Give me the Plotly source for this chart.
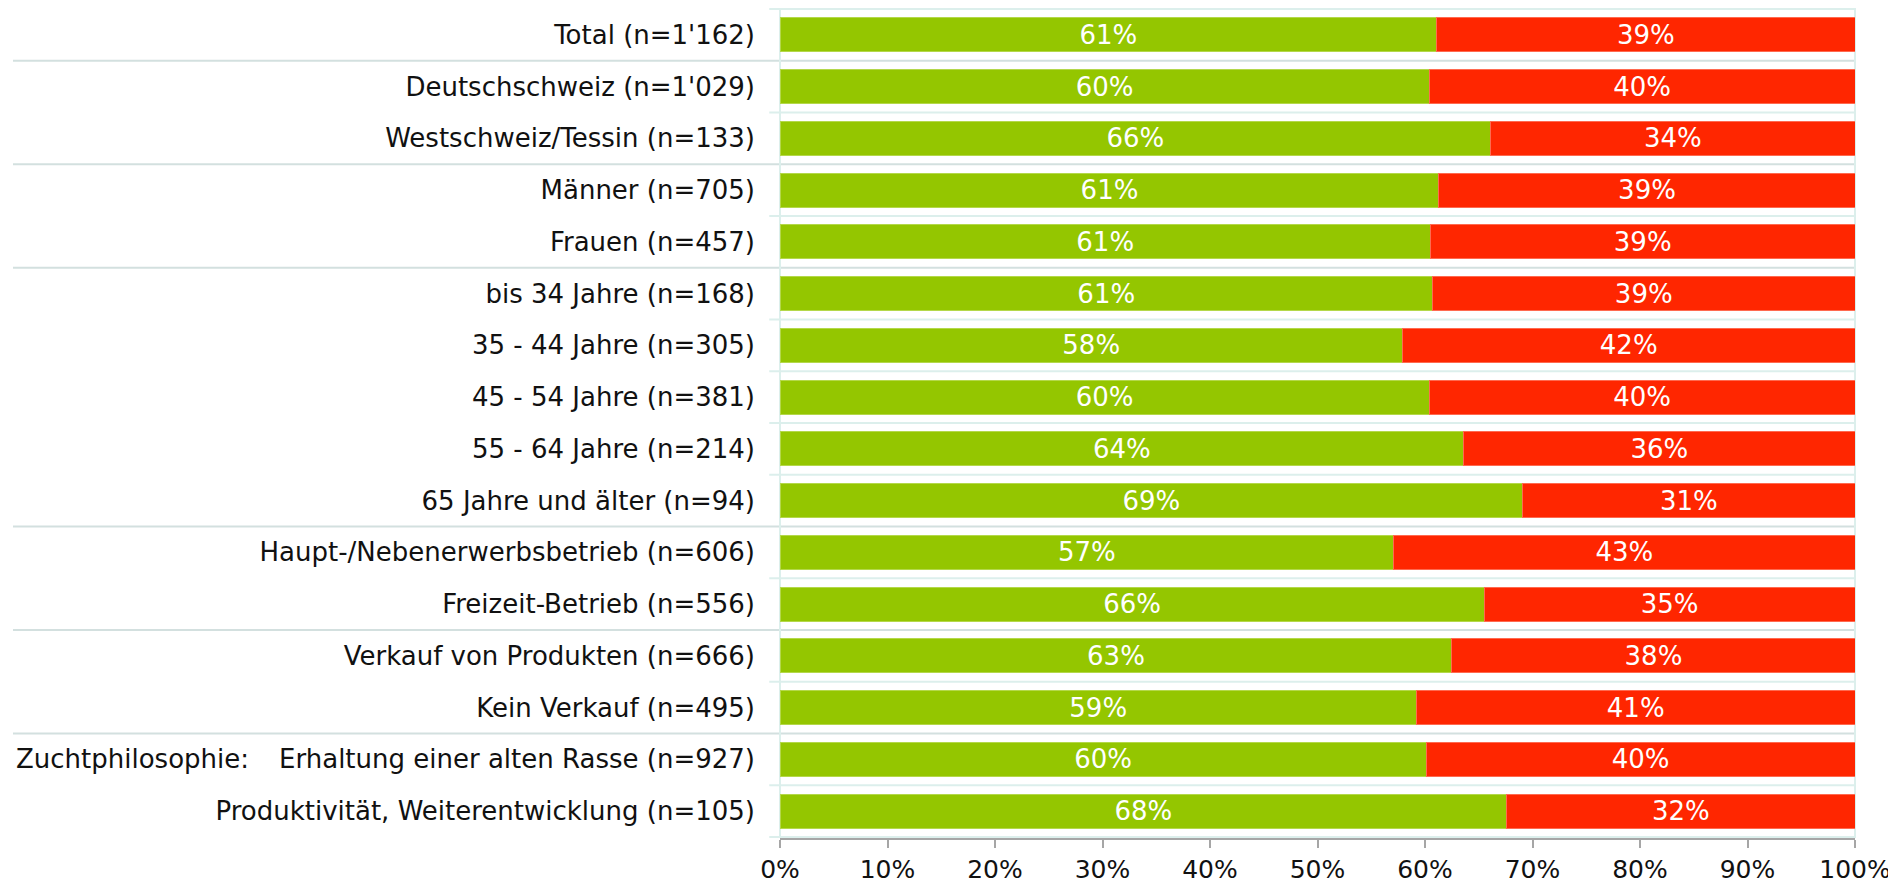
import plotly.graph_objects as go

categories = [
    "Total (n=1'162)",
    "Deutschschweiz (n=1'029)",
    "Westschweiz/Tessin (n=133)",
    "Männer (n=705)",
    "Frauen (n=457)",
    "bis 34 Jahre (n=168)",
    "35 - 44 Jahre (n=305)",
    "45 - 54 Jahre (n=381)",
    "55 - 64 Jahre (n=214)",
    "65 Jahre und älter (n=94)",
    "Haupt-/Nebenerwerbsbetrieb (n=606)",
    "Freizeit-Betrieb (n=556)",
    "Verkauf von Produkten (n=666)",
    "Kein Verkauf (n=495)",
    "Erhaltung einer alten Rasse (n=927)",
    "Produktivität, Weiterentwicklung (n=105)",
]
# share (%)
green_values = [61.1, 60.4, 66.1, 61.3, 60.5, 60.7, 57.9, 60.4, 63.6, 69.1, 57.1, 65.5, 62.5, 59.2, 60.1, 67.6]
red_values = [38.9, 39.6, 33.9, 38.7, 39.5, 39.3, 42.1, 39.6, 36.4, 30.9, 42.9, 34.5, 37.5, 40.8, 39.9, 32.4]
# printed labels
green_labels = ["61%", "60%", "66%", "61%", "61%", "61%", "58%", "60%", "64%", "69%", "57%", "66%", "63%", "59%", "60%", "68%"]
red_labels = ["39%", "40%", "34%", "39%", "39%", "39%", "42%", "40%", "36%", "31%", "43%", "35%", "38%", "41%", "40%", "32%"]
# rows after which a group separator is drawn
group_ends = [0, 2, 4, 9, 11, 13]
x_ticks = [0, 10, 20, 30, 40, 50, 60, 70, 80, 90, 100]

FONT = "DejaVu Sans"
GREEN = "#94c600"
RED = "#ff2600"
GRID = "#dcefec"
SEP = "#d3e0df"

fig = go.Figure()
fig.add_trace(go.Bar(
    y=categories, x=green_values, orientation="h",
    marker=dict(color=GREEN, line=dict(color="#b4d84a", width=1)),
    text=green_labels, textposition="inside", insidetextanchor="middle",
    constraintext="none",
    textfont=dict(family=FONT, size=26, color="white"), textangle=0,
    hoverinfo="skip",
))
fig.add_trace(go.Bar(
    y=categories, x=red_values, orientation="h",
    marker=dict(color=RED, line=dict(color="#ff6a50", width=1)),
    text=red_labels, textposition="inside", insidetextanchor="middle",
    constraintext="none",
    textfont=dict(family=FONT, size=26, color="white"), textangle=0,
    hoverinfo="skip",
))

shapes = []
n = len(categories)
for i in range(n + 1):
    pos = i - 0.5
    if (i - 1) in group_ends:
        shapes.append(dict(type="line", xref="paper", yref="y", x0=-0.7135, x1=1.0,
                           y0=pos, y1=pos, line=dict(color=SEP, width=2), layer="below"))
    else:
        shapes.append(dict(type="line", xref="paper", yref="y", x0=-0.01, x1=1.0,
                           y0=pos, y1=pos, line=dict(color=GRID, width=2), layer="below"))
for xv in [0, 1]:
    shapes.append(dict(type="line", xref="paper", yref="paper", x0=xv, x1=xv,
                       y0=0, y1=1, line=dict(color=GRID, width=2), layer="below"))

fig.update_layout(
    barmode="stack",
    bargap=0.34,
    width=1896,
    height=884,
    margin=dict(l=772, r=49, t=0, b=54),
    paper_bgcolor="white",
    plot_bgcolor="white",
    showlegend=False,
    shapes=shapes,
    font=dict(family=FONT, color="#111111"),
    xaxis=dict(
        range=[0, 100], tickvals=x_ticks,
        ticktext=[f"{v}%" for v in x_ticks],
        showgrid=False, zeroline=False,
        showline=True, linecolor="#a6a6a6", linewidth=2,
        ticks="outside", ticklen=8, tickcolor="#a6a6a6", tickwidth=2,
        tickfont=dict(family=FONT, size=25, color="#111111"),
    ),
    yaxis=dict(
        autorange="reversed", showgrid=False, zeroline=False, showline=False,
        ticks="", ticklabelstandoff=24,
        tickfont=dict(family=FONT, size=26, color="#111111"),
    ),
    annotations=[dict(
        xref="paper", yref="y", x=-0.7125, y=categories[14], xanchor="left",
        text="Zuchtphilosophie:", showarrow=False,
        font=dict(family=FONT, size=26, color="#111111"),
    )],
)

fig.write_html("out.html")
